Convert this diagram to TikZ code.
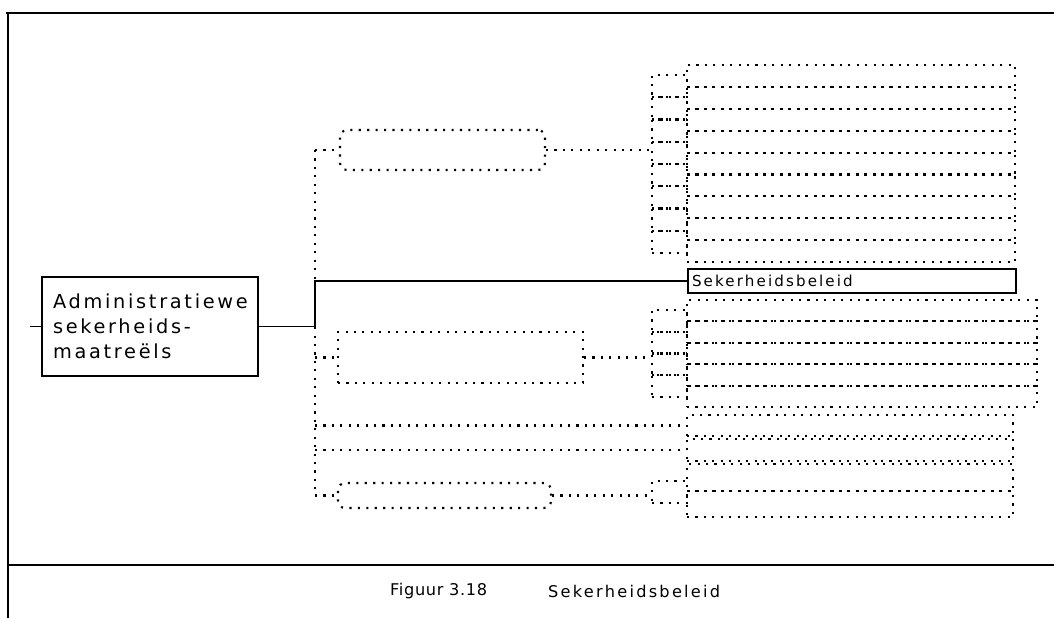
\documentclass[tikz,border=0pt]{standalone}
\usepackage{fontspec}
\setmainfont{DejaVu Sans}[LetterSpace=14]
\usetikzlibrary{positioning}

\begin{document}
\begin{tikzpicture}[x=0.02cm,y=-0.02cm,
  every node/.style={font=\fontsize{11}{14.2}\selectfont},
  solidbox/.style={draw,line width=1.1pt,inner ysep=0pt,align=left},
  ghost/.style={line width=1.2pt,dash pattern=on 1.2pt off 3.6pt},
  ghostbox/.style={draw,ghost,inner sep=0pt},
  rowbox/.style={ghostbox,minimum width=6.56cm,minimum height=0.438cm},
  tabbox/.style={ghostbox,minimum width=0.7cm,minimum height=0.445cm}
]
  \useasboundingbox (0,0) rectangle (1054,618);

  % frame
  \draw[line width=1.1pt] (6,13) -- (1054,13);
  \draw[line width=1.1pt] (8,13) -- (8,618);
  \draw[line width=1.1pt] (8,565) -- (1054,565);

  \node[solidbox,minimum width=4.32cm,minimum height=1.98cm,inner xsep=0.22cm,text width=3.88cm] (root) at (150,326.5) {Administratiewe\\ sekerheids-\\ maatreëls};
  \node[solidbox,font=\fontsize{8.6}{9}\selectfont,minimum width=6.56cm,minimum height=0.48cm,inner xsep=0.08cm,text width=6.4cm] (beleid) at (852,281) {Sekerheidsbeleid};

  \node[ghostbox,rounded corners=4pt,minimum width=4.1cm,minimum height=0.8cm] (ub) at (442.5,150) {};
  \node[ghostbox,minimum width=4.9cm,minimum height=1.02cm] (lb) at (460.5,357.5) {};
  \node[ghostbox,rounded corners=4pt,minimum width=4.26cm,minimum height=0.5cm] (bb) at (444.5,495.5) {};

  \foreach \k in {1,...,9}
    \node[rowbox] (u\k) at (851,{65+21.9*(\k-0.5)}) {};
  \foreach \k in {1,...,8}
    \node[tabbox] (s\k) at (669.5,{75+22.25*(\k-0.5)}) {};

  \foreach \k in {1,...,5}
    \node[rowbox,minimum width=7cm,minimum height=0.428cm] (a\k) at (862,{300+21.4*(\k-0.5)}) {};
  \foreach \k in {1,...,4}
    \node[tabbox,minimum height=0.435cm] (l\k) at (669.5,{310+21.75*(\k-0.5)}) {};
  \node[tabbox,minimum height=0.44cm] (l5) at (669.5,492) {};

  \node[rowbox,minimum width=6.52cm,minimum height=0.42cm] (b1) at (850,425.5) {};
  \node[rowbox,minimum width=6.52cm,minimum height=0.44cm] (b2) at (850,450) {};
  \node[rowbox,minimum width=6.52cm,minimum height=0.54cm] (b3) at (850,477.5) {};
  \node[rowbox,minimum width=6.52cm,minimum height=0.52cm] (b4) at (850,504) {};

  \coordinate (stub) at (30,326.5);
  \coordinate (bend) at (315,281);
  \coordinate (ttop) at (315,150);
  \coordinate (tbot) at (315,495.5);

  \draw[line width=1.1pt] (stub) -- (root.west);
  \draw[line width=1.1pt] (root.east) -| (bend) -- (beleid.west);

  \draw[ghost] (ttop) -- (tbot);
  \draw[ghost] (ttop) -- (ub.west);
  \draw[ghost] (lb.west -| ttop) -- (lb.west);
  \draw[ghost] (tbot) -- (bb.west);
  \draw[ghost] (b1.west -| ttop) -- (b1.west);
  \draw[ghost] (b2.west -| ttop) -- (b2.west);
  \draw[ghost] (ub.east) -- (ub.east -| s4.west);
  \draw[ghost] (lb.east) -- (lb.east -| l3.west);
  \draw[ghost] (bb.east) -- (bb.east -| l5.west);

  \node[anchor=west,font=\fontsize{9.2}{10}\selectfont\addfontfeature{LetterSpace=4}] (fig) at (384,591) {Figuur 3.18};
  \node[anchor=west,font=\fontsize{9.2}{10}\selectfont] (cap) at (542,591) {Sekerheidsbeleid};
\end{tikzpicture}
\end{document}
